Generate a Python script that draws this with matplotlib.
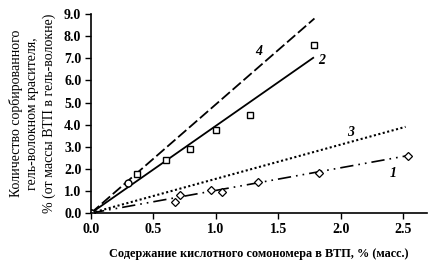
import matplotlib
matplotlib.use("Agg")
import matplotlib.pyplot as plt
import numpy as np

plt.rcParams['font.family'] = ['Liberation Serif', 'DejaVu Serif']

# series 1 (diamonds)
x1 = [0.0, 0.67, 0.71, 0.96, 1.05, 1.34, 1.83, 2.54]
y1 = [0.0, 0.50, 0.80, 1.05, 0.95, 1.40, 1.80, 2.60]
fit1_x = [0.0, 2.54]
fit1_y = [0.0, 2.60]
# series 2 (squares)
x2 = [0.0, 0.37, 0.60, 0.79, 1.00, 1.27, 1.79]
y2 = [0.0, 1.78, 2.38, 2.88, 3.74, 4.45, 7.60]
fit2_x = [0.0, 1.78]
fit2_y = [0.0, 7.02]
# series 3 (dotted)
fit3_x = [0.0, 2.52]
fit3_y = [0.0, 3.90]
# series 4 (circles)
x4 = [0.0, 0.30]
y4 = [0.0, 1.38]
fit4_x = [0.0, 1.79]
fit4_y = [0.0, 8.80]

xticks = [0.0, 0.5, 1.0, 1.5, 2.0, 2.5]
yticks = [0.0, 1.0, 2.0, 3.0, 4.0, 5.0, 6.0, 7.0, 8.0, 9.0]

fig = plt.figure(figsize=(4.43, 2.68), dpi=100)
ax = fig.add_axes([0.2054, 0.205, 0.758, 0.7425])

ax.plot(fit4_x, fit4_y, color='black', lw=1.3, dashes=(6, 2))
ax.plot(fit2_x, fit2_y, color='black', lw=1.3)
ax.plot(fit3_x, fit3_y, color='black', lw=1.5, dashes=(1, 1.2))
ax.plot(fit1_x, fit1_y, color='black', lw=1.2, dashes=(8, 3, 1, 3, 1, 3))

ax.plot(x1, y1, ls='none', marker='D', ms=4.5, mfc='white', mec='black', mew=0.9)
ax.plot(x2, y2, ls='none', marker='s', ms=4.5, mfc='white', mec='black', mew=1.0)
ax.plot(x4, y4, ls='none', marker='o', ms=5, mfc='white', mec='black', mew=1.0)

lab = dict(fontsize=10, fontweight='bold', fontstyle='italic', ha='center', va='center')
ax.text(1.34, 7.3, '4', **lab)
ax.text(1.85, 6.9, '2', **lab)
ax.text(2.08, 3.65, '3', **lab)
ax.text(2.42, 1.8, '1', **lab)

ax.set_xlim(0, 2.69)
ax.set_ylim(0, 9.0)
ax.set_xticks(xticks)
ax.set_yticks(yticks)
ax.set_xticklabels([f'{v:.1f}' for v in xticks], fontsize=10, fontweight='bold')
ax.set_yticklabels([f'{v:.1f}' for v in yticks], fontsize=10, fontweight='bold')
ax.tick_params(direction='out', length=4, width=1, pad=3)
for s in ['top', 'right']:
    ax.spines[s].set_visible(False)
for s in ['left', 'bottom']:
    ax.spines[s].set_linewidth(1.2)

ax.set_xlabel('Содержание кислотного сомономера в ВТП, % (масс.)', fontsize=8.8,
              fontweight='bold', labelpad=9)
ax.set_ylabel('Количество сорбированного\nгель-волокном красителя,\n% (от массы ВТП в гель-волокне)',
              fontsize=10, labelpad=6, linespacing=1.3)

fig.savefig('out.png', dpi=100)
